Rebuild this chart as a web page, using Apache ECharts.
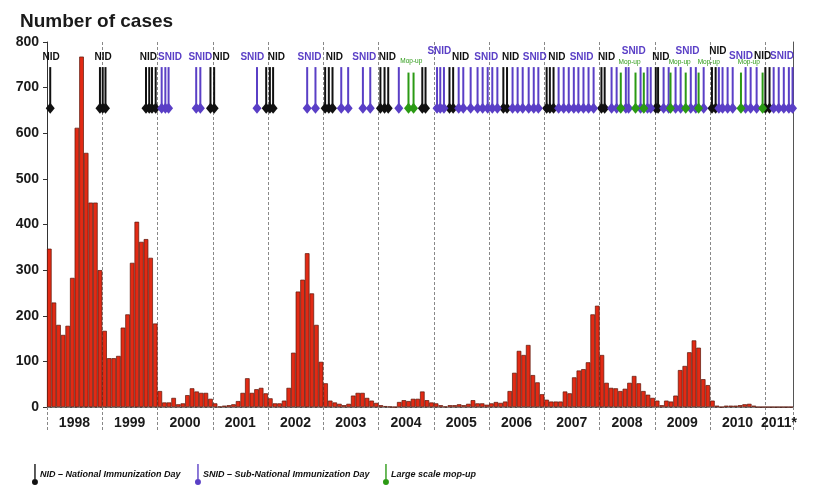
<!DOCTYPE html>
<html><head><meta charset="utf-8">
<script src="https://cdn.jsdelivr.net/npm/echarts@6/dist/echarts.min.js"></script>
<style>html,body{margin:0;padding:0;background:#fff}#c{width:814px;height:485px}</style>
</head><body><div id="c"></div>
<script>
// ---- data ----
const years = ['1998','1999','2000','2001','2002','2003','2004','2005','2006','2007','2008','2009','2010','2011'];
const yearLabels = ['1998','1999','2000','2001','2002','2003','2004','2005','2006','2007','2008','2009','2010','2011*'];
const cases1998 = [347, 229, 180, 158, 178, 283, 612, 768, 557, 448, 448, 300];
const cases1999 = [167, 107, 107, 112, 174, 203, 316, 406, 362, 368, 327, 183];
const cases2000 = [35, 10, 10, 20, 6, 8, 26, 41, 34, 31, 31, 18];
const cases2001 = [8, 1, 3, 4, 6, 13, 31, 63, 31, 39, 42, 30];
const cases2002 = [19, 8, 8, 14, 42, 119, 253, 279, 337, 249, 180, 99];
const cases2003 = [52, 14, 10, 7, 4, 7, 25, 31, 31, 20, 14, 9];
const cases2004 = [4, 2, 1, 0, 11, 15, 13, 18, 18, 34, 15, 10];
const cases2005 = [8, 4, 1, 4, 4, 6, 4, 7, 15, 8, 8, 5];
const cases2006 = [8, 11, 9, 12, 35, 75, 123, 114, 136, 70, 54, 28];
const cases2007 = [16, 12, 12, 12, 34, 30, 65, 80, 83, 98, 203, 222];
const cases2008 = [114, 53, 42, 41, 35, 40, 53, 68, 52, 35, 27, 20];
const cases2009 = [14, 4, 14, 12, 25, 81, 90, 120, 146, 130, 61, 48];
const cases2010 = [14, 3, 0, 3, 3, 3, 4, 6, 7, 3, 0, 0];
const cases2011 = [0, 0, 0, 0, 0, 0];
const yAxisTicks = [0, 100, 200, 300, 400, 500, 600, 700, 800];

// campaign dates, in months since Jan 1998
const nidMonths = [0.7, 11.5, 12.1, 12.7, 21.5, 22.2, 22.8, 23.6, 35.5, 36.3, 47.6, 48.4, 49.1, 60.4, 61.2, 62.0, 72.4, 73.3, 74.1, 81.5, 82.2, 87.4, 88.2, 99.1, 99.9, 108.5, 109.2, 110.0, 120.4, 121.1, 132.2, 132.7, 144.4, 145.2, 156.0, 156.9];
const snidMonths = [24.9, 25.7, 26.4, 32.4, 33.3, 45.6, 56.5, 58.3, 63.9, 65.4, 68.6, 70.2, 76.4, 84.7, 85.4, 86.2, 89.4, 90.4, 92.0, 93.5, 94.6, 95.7, 96.7, 97.8, 101.1, 102.2, 103.3, 104.6, 105.7, 106.7, 111.1, 112.2, 113.3, 114.4, 115.4, 116.5, 117.6, 118.7, 122.6, 123.7, 125.7, 126.3, 128.9, 130.4, 131.1, 133.9, 135.0, 136.5, 137.6, 139.8, 140.9, 142.6, 145.9, 146.7, 147.8, 148.9, 151.7, 152.8, 154.1, 157.8, 158.9, 160.0, 161.1, 161.9];
const mopMonths = [78.5, 79.6, 124.6, 127.8, 129.6, 135.4, 138.7, 141.5, 150.7, 155.4];
// group labels: [month, value-level]
const nidLabelAt = [[0.9,766],[12.2,766],[22.0,766],[37.8,766],[49.8,766],[62.4,766],[73.9,766],[89.8,766],[100.7,766],[110.7,766],[121.5,766],[133.3,766],[145.7,779],[155.4,769]];
const snidLabelAt = [[26.7,766],[33.3,766],[44.6,766],[57.0,766],[68.9,766],[85.2,779],[95.4,766],[105.9,766],[116.1,766],[127.4,779],[139.1,779],[150.7,769],[159.6,769]];
const mopLabelAt = [[79.1,759],[126.5,755],[137.4,755],[143.7,755],[152.4,755]];

// ---- build ----
const monthlyCases = [].concat(cases1998, cases1999, cases2000, cases2001, cases2002, cases2003, cases2004,
  cases2005, cases2006, cases2007, cases2008, cases2009, cases2010, cases2011);
const categories = monthlyCases.map((_, i) => years[Math.floor(i / 12)] + '-' + String(i % 12 + 1).padStart(2, '0'));
const nMonths = categories.length;

const NAME_NID = 'NID \u2013 National Immunization Day';
const NAME_SNID = 'SNID \u2013 Sub-National Immunization Day';
const NAME_MOP = 'Large scale mop-up';
const C_NID = '#111111', C_SNID = '#5a3fc6', C_MOP = '#2b9a14';
const BASE = 655;

function pinRender(top, color) {
  return function (params, api) {
    const m = api.value(0);
    const p0 = api.coord([m, top]);
    const p1 = api.coord([m, BASE]);
    const hw = 4.5, hh = 5.5;
    return {
      type: 'group',
      children: [
        { type: 'line', shape: { x1: p0[0], y1: p0[1], x2: p1[0], y2: p1[1] }, style: { stroke: color, lineWidth: 2 } },
        { type: 'polygon', shape: { points: [[p1[0], p1[1] - hh], [p1[0] + hw, p1[1]], [p1[0], p1[1] + hh], [p1[0] - hw, p1[1]]] }, style: { fill: color } }
      ]
    };
  };
}
function textRender(text, color, font) {
  return function (params, api) {
    const p = api.coord([api.value(0), api.value(1)]);
    return { type: 'text', x: p[0], y: p[1], style: { text: text, fill: color, font: font, align: 'center', verticalAlign: 'middle' } };
  };
}
const LABEL_FONT = 'bold 10px "Liberation Sans", Arial, sans-serif';
const MOP_FONT = '6.5px "Liberation Sans", Arial, sans-serif';

function legendAt(name, left) {
  return {
    data: [name], left: left, top: 459, itemWidth: 8, itemHeight: 21,
    icon: 'path://M3.4,0 H4.6 V14 H3.4 Z M4,13.2 A2.6,2.6 0 1 1 3.99,13.2 Z',
    textStyle: { fontFamily: '"Liberation Sans", Arial, sans-serif', fontStyle: 'italic', fontWeight: 'bold', fontSize: 9, color: '#111', padding: [4, 0, 0, -4] }
  };
}

const chart = echarts.init(document.getElementById('c'), null, { renderer: 'canvas' });
chart.setOption({
  animation: false,
  backgroundColor: '#ffffff',
  title: {
    text: 'Number of cases', left: 15, top: 7,
    textStyle: { fontFamily: '"Liberation Sans", Arial, sans-serif', fontWeight: 'bold', fontSize: 19, color: '#1a1a1a' }
  },
  grid: { left: 47, right: 21, top: 42, bottom: 78, containLabel: false },
  legend: [legendAt(NAME_NID, 27), legendAt(NAME_SNID, 190), legendAt(NAME_MOP, 378)],
  xAxis: [
    {
      type: 'category', data: categories, boundaryGap: true,
      axisLine: { show: true, lineStyle: { color: '#333', width: 1 } },
      axisTick: { show: true, interval: (i) => i % 12 === 0, length: 25, lineStyle: { color: '#888', type: [3, 2], width: 1 } },
      axisLabel: {
        interval: (i) => i % 12 === 6 || i === 159,
        formatter: (v, i) => yearLabels[Math.floor(i / 12)],
        margin: 9, padding: [0, 5, 0, 0],
        fontFamily: '"Liberation Sans", Arial, sans-serif', fontWeight: 'bold', fontSize: 14, color: '#1a1a1a'
      },
      splitLine: { show: true, interval: (i) => i % 12 === 0, lineStyle: { color: '#888', type: [3, 2], width: 1 } }
    },
    {
      type: 'value', min: 0, max: nMonths, position: 'top',
      axisLine: { show: true, lineStyle: { color: '#888', type: [3, 2], width: 1 } },
      axisTick: { show: false }, axisLabel: { show: false }, splitLine: { show: false }
    }
  ],
  yAxis: [
    {
      type: 'value', min: yAxisTicks[0], max: yAxisTicks[yAxisTicks.length - 1], interval: 100,
      axisLine: { show: true, lineStyle: { color: '#333', width: 1 } },
      axisTick: { show: true, length: 4, lineStyle: { color: '#333' } },
      axisLabel: { margin: 8, fontFamily: '"Liberation Sans", Arial, sans-serif', fontWeight: 'bold', fontSize: 14, color: '#1a1a1a' },
      splitLine: { show: false }
    },
    {
      type: 'value', min: 0, max: 800, position: 'right',
      axisLine: { show: true, lineStyle: { color: '#555', width: 1 } },
      axisTick: { show: false }, axisLabel: { show: false }, splitLine: { show: false }
    }
  ],
  series: [
    {
      name: 'Cases', type: 'bar', data: monthlyCases, barCategoryGap: '0%',
      itemStyle: { color: '#e22a14', borderColor: '#5a1508', borderWidth: 0.7 }
    },
    { name: NAME_NID, type: 'custom', xAxisIndex: 1, yAxisIndex: 0, itemStyle: { color: C_NID },
      data: nidMonths.map(m => [m, BASE]), encode: { x: 0, y: 1 }, renderItem: pinRender(745, C_NID) },
    { name: NAME_SNID, type: 'custom', xAxisIndex: 1, yAxisIndex: 0, itemStyle: { color: C_SNID },
      data: snidMonths.map(m => [m, BASE]), encode: { x: 0, y: 1 }, renderItem: pinRender(745, C_SNID) },
    { name: NAME_MOP, type: 'custom', xAxisIndex: 1, yAxisIndex: 0, itemStyle: { color: C_MOP },
      data: mopMonths.map(m => [m, BASE]), encode: { x: 0, y: 1 }, renderItem: pinRender(733, C_MOP) },
    { name: 'nidLabels', type: 'custom', xAxisIndex: 1, yAxisIndex: 0, data: nidLabelAt, encode: { x: 0, y: 1 },
      renderItem: textRender('NID', C_NID, LABEL_FONT) },
    { name: 'snidLabels', type: 'custom', xAxisIndex: 1, yAxisIndex: 0, data: snidLabelAt, encode: { x: 0, y: 1 },
      renderItem: textRender('SNID', C_SNID, LABEL_FONT) },
    { name: 'mopLabels', type: 'custom', xAxisIndex: 1, yAxisIndex: 0, data: mopLabelAt, encode: { x: 0, y: 1 },
      renderItem: textRender('Mop-up', C_MOP, MOP_FONT) }
  ]
});
</script>
</body></html>
